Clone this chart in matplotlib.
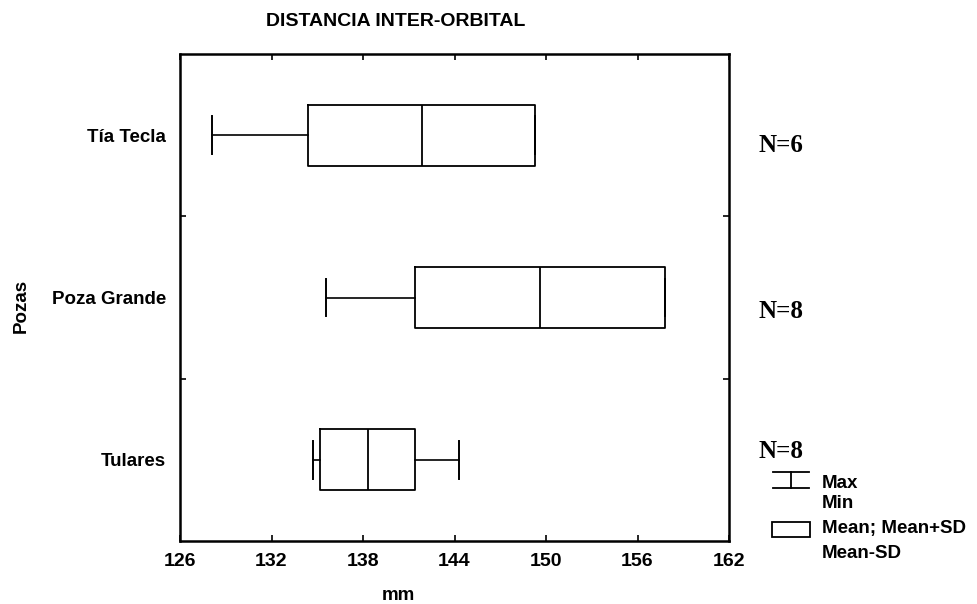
import matplotlib
matplotlib.use('Agg')
import matplotlib.pyplot as plt
from matplotlib.lines import Line2D
from matplotlib.patches import Rectangle

plt.rcParams['font.family'] = ['Liberation Sans', 'DejaVu Sans']

# data (mm)
pozas = ['Tía Tecla', 'Poza Grande', 'Tulares']
n_obs = [6, 8, 8]
mean = [141.9, 149.6, 138.3]
mean_minus_sd = [134.4, 141.4, 135.2]
mean_plus_sd = [149.3, 157.8, 141.4]
min_val = [128.1, 135.6, 134.7]
max_val = [149.3, 157.8, 144.3]
x_ticks = [126, 132, 138, 144, 150, 156, 162]

W, H = 978, 604
fig = plt.figure(figsize=(W / 100, H / 100), dpi=100)
ax = fig.add_axes([180 / W, 1 - 541 / H, 549 / W, 487 / H])

stats = []
for i in range(len(pozas)):
    stats.append(dict(med=mean[i], q1=mean_minus_sd[i], q3=mean_plus_sd[i],
                      whislo=min_val[i], whishi=max_val[i], label=pozas[i]))

pos = list(range(1, len(pozas) + 1))
ax.bxp(stats, positions=pos, orientation='horizontal', widths=0.376,
       capwidths=0.23, showfliers=False,
       boxprops=dict(color='black', linewidth=1.3),
       medianprops=dict(color='black', linewidth=1.3),
       whiskerprops=dict(color='black', linewidth=1.2),
       capprops=dict(color='black', linewidth=1.4))

ax.set_xlim(126, 162)
ax.set_ylim(3.5, 0.5)
ax.set_xticks(x_ticks)
ax.set_xticklabels([str(t) for t in x_ticks], fontsize=14, fontweight='bold')
ax.set_yticks(pos)
ax.set_yticklabels(pozas, fontsize=13.5, fontweight='bold')
ax.set_yticks([1.5, 2.5], minor=True)
ax.tick_params(axis='y', which='major', length=0, pad=10)
ax.tick_params(axis='y', which='minor', direction='in', length=4, width=1.2,
               left=True, right=True)
ax.tick_params(axis='x', which='major', direction='in', length=4, width=1.2,
               top=True, bottom=True, pad=9)
for s in ax.spines.values():
    s.set_linewidth(1.8)

ax.set_title('DISTANCIA INTER-ORBITAL', fontsize=14, fontweight='bold',
             x=0.392, y=1.04)
ax.set_xlabel('mm', fontsize=13.5, fontweight='bold')
ax.xaxis.set_label_coords(0.397, -0.095)
ax.set_ylabel('Pozas', fontsize=13.5, fontweight='bold')
ax.yaxis.set_label_coords(-0.274, 0.4825)

# N labels to the right of the plot
n_y = [146, 312, 451]
for k, n in enumerate(n_obs):
    fig.text(759 / W, 1 - n_y[k] / H, 'N=%d' % n, fontsize=18, fontweight='bold',
             family='Liberation Serif', ha='left', va='center')

# legend drawn by hand
lw = 1.3
fig.add_artist(Line2D([773 / W, 809 / W], [1 - 472 / H, 1 - 472 / H], color='black', lw=lw))
fig.add_artist(Line2D([773 / W, 809 / W], [1 - 488 / H, 1 - 488 / H], color='black', lw=lw))
fig.add_artist(Line2D([791 / W, 791 / W], [1 - 472 / H, 1 - 488 / H], color='black', lw=lw))
fig.add_artist(Rectangle((772 / W, 1 - 537 / H), 38 / W, 15 / H, fill=False,
                         edgecolor='black', lw=lw, transform=fig.transFigure))
leg_txt = [('Max', 483), ('Min', 503), ('Mean; Mean+SD', 529), ('Mean-SD', 553)]
for t, y in leg_txt:
    fig.text(822 / W, 1 - y / H, t, fontsize=13.5, fontweight='bold',
             ha='left', va='center')

fig.savefig('out.png', dpi=100)
